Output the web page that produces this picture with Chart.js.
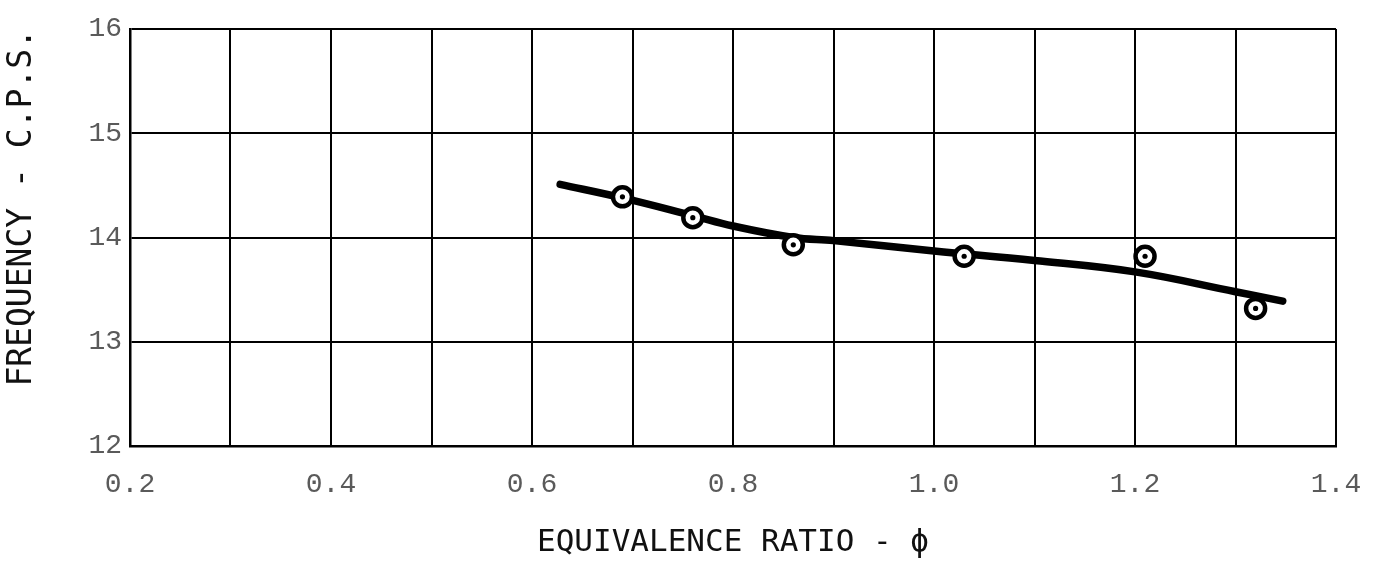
<!DOCTYPE html>
<html>
<head>
<meta charset="utf-8">
<script src="https://cdn.jsdelivr.net/npm/chart.js@4"></script>
<style>
  html, body { margin: 0; padding: 0; background: #fff; }
  #wrap { width: 1394px; height: 563px; }
</style>
</head>
<body>
<div id="wrap"><canvas id="freqChart"></canvas></div>
<script>
// measured points (equivalence ratio vs frequency)
const phi = [0.69, 0.76, 0.86, 1.03, 1.21, 1.32];
const freq = [14.39, 14.19, 13.93, 13.82, 13.82, 13.32];

// faired curve through the data
const fitPhi = [0.628, 0.69, 0.76, 0.80, 0.86, 0.90, 1.0, 1.1, 1.2, 1.3, 1.347];
const fitFreq = [14.51, 14.38, 14.21, 14.11, 14.00, 13.97, 13.87, 13.78, 13.67, 13.48, 13.39];

const xTicks = [0.2, 0.4, 0.6, 0.8, 1.0, 1.2, 1.4];
const yTicks = [12, 13, 14, 15, 16];

const pts = phi.map((x, i) => ({ x: x, y: freq[i] }));
const fit = fitPhi.map((x, i) => ({ x: x, y: fitFreq[i] }));

const ctx = document.getElementById('freqChart').getContext('2d');

const chart = new Chart(ctx, {
  type: 'scatter',
  data: {
    datasets: [
      {
        // centre dots
        data: pts,
        pointRadius: 2.6,
        pointBackgroundColor: '#000',
        pointBorderWidth: 0,
        order: 0
      },
      {
        // open rings
        data: pts,
        pointRadius: 9.5,
        pointBorderWidth: 4.5,
        pointBorderColor: '#000',
        pointBackgroundColor: '#fff',
        order: 1
      },
      {
        type: 'line',
        data: fit,
        borderColor: '#000',
        borderWidth: 7.5,
        borderCapStyle: 'round',
        pointRadius: 0,
        tension: 0.4,
        fill: false,
        order: 2
      }
    ]
  },
  options: {
    responsive: true,
    maintainAspectRatio: false,
    animation: false,
    layout: { padding: { top: 29, right: 58, left: 0, bottom: 0 } },
    plugins: {
      legend: { display: false },
      tooltip: { enabled: false }
    },
    scales: {
      x: {
        type: 'linear',
        min: 0.2,
        max: 1.4,
        afterFit: s => { s.height = 117; },
        ticks: {
          stepSize: 0.1,
          padding: 22,
          color: '#5a5a5a',
          font: { family: 'Liberation Mono', size: 28 },
          maxRotation: 0,
          autoSkip: false,
          callback: v => {
            const r = Math.round(v * 10) / 10;
            return xTicks.some(t => Math.abs(t - r) < 1e-6) ? r.toFixed(1) : '';
          }
        },
        grid: { color: '#000', lineWidth: 2, drawTicks: false },
        border: { color: '#000', width: 2.5 },
        title: {
          display: true,
          text: 'EQUIVALENCE RATIO - \u03d5',
          color: '#111',
          font: { family: 'DejaVu Sans Mono', size: 31 },
          padding: { top: 0, bottom: 1 }
        }
      },
      y: {
        min: 12,
        max: 16,
        afterFit: s => { s.width = 130; },
        ticks: {
          stepSize: 1,
          padding: 8,
          color: '#5a5a5a',
          font: { family: 'Liberation Mono', size: 28 },
          callback: v => yTicks.includes(v) ? String(v) : ''
        },
        grid: { color: '#000', lineWidth: 2, drawTicks: false },
        border: { color: '#000', width: 2.5 },
        title: {
          display: true,
          text: 'FREQUENCY - C.P.S.',
          align: 'end',
          color: '#111',
          font: { family: 'DejaVu Sans Mono', size: 33 },
          padding: { top: 3, bottom: 0 }
        }
      }
    }
  }
});
</script>
</body>
</html>
